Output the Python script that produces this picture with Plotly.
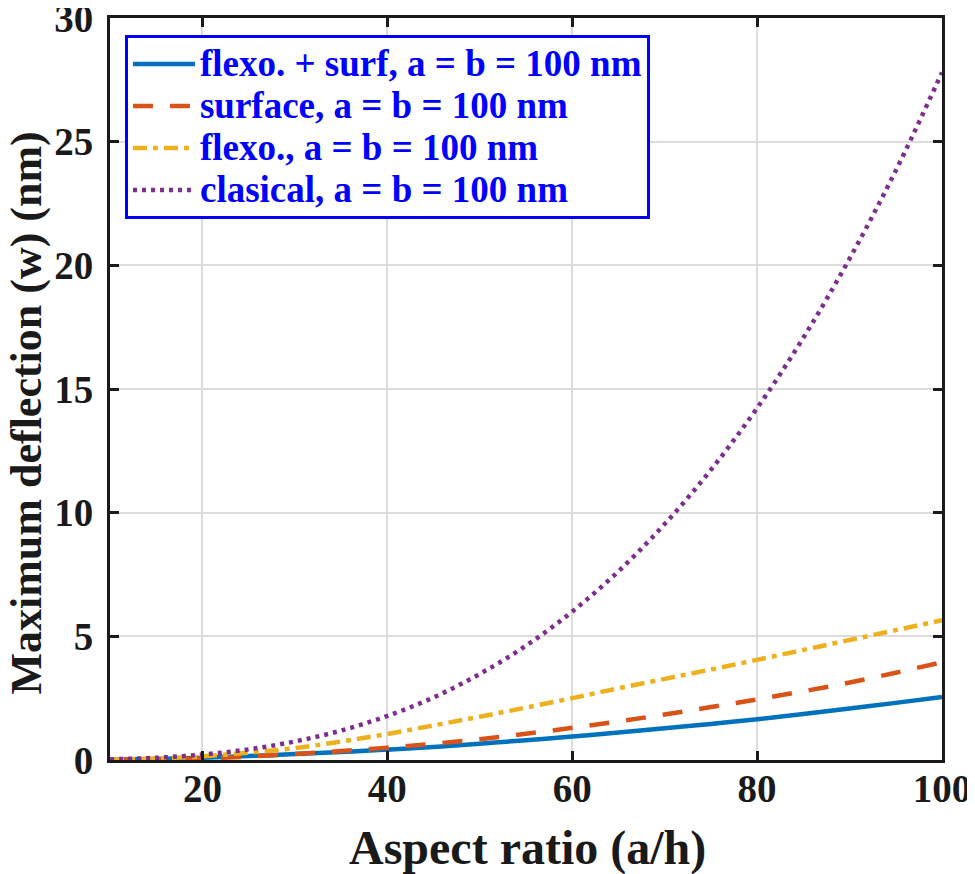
import plotly.graph_objects as go

aspect_ratio = [10, 15, 20, 25, 30, 35, 40, 45, 50, 55, 60, 65, 70, 75, 80, 85, 90, 95, 100]

w_flexo_surf = [0.01, 0.04, 0.09, 0.16, 0.24, 0.32, 0.42, 0.53, 0.66, 0.80, 0.95, 1.11, 1.28, 1.46, 1.65, 1.86, 2.08, 2.31, 2.55]
w_surface = [0.01, 0.03, 0.07, 0.14, 0.24, 0.36, 0.50, 0.66, 0.84, 1.06, 1.30, 1.56, 1.84, 2.14, 2.45, 2.78, 3.13, 3.53, 3.95]
w_flexo = [0.02, 0.06, 0.15, 0.30, 0.48, 0.75, 1.05, 1.40, 1.75, 2.12, 2.50, 2.90, 3.28, 3.66, 4.05, 4.45, 4.85, 5.25, 5.65]
w_classical = [0.03, 0.09, 0.22, 0.43, 0.75, 1.19, 1.78, 2.53, 3.48, 4.62, 6.00, 7.63, 9.54, 11.73, 14.23, 17.07, 20.27, 23.83, 27.8]

series_names = [
    "flexo. + surf, a = b = 100 nm",
    "surface, a = b = 100 nm",
    "flexo., a = b = 100 nm",
    "clasical, a = b = 100 nm",
]
series_values = [w_flexo_surf, w_surface, w_flexo, w_classical]
colors = ["#0072BD", "#D95319", "#EDB120", "#7E2F8E"]
dashes = ["solid", "20px,17px", "14px,6px,5px,6px", "4px,5px"]

x_ticks = [20, 40, 60, 80, 100]
y_ticks = [0, 5, 10, 15, 20, 25, 30]

x_title = "Aspect ratio (a/h)"
y_title = "Maximum deflection (w) (nm)"

FONT = "Liberation Serif"
INK = "#1a1a1a"

fig = go.Figure()
for name, vals, c, d in zip(series_names, series_values, colors, dashes):
    fig.add_trace(go.Scatter(
        x=aspect_ratio, y=vals, mode="lines",
        name='<span style="font-size:37px">' + name + '</span>',
        line=dict(color=c, width=4.5, dash=d, shape="spline"),
    ))

axis_common = dict(
    showline=True, linecolor=INK, linewidth=3, mirror="ticks",
    ticks="inside", ticklen=9, tickwidth=3, tickcolor=INK,
    showgrid=True, gridcolor="#dcdcdc", gridwidth=2, zeroline=False,
    tickfont=dict(family=FONT, size=39, color=INK, weight="bold"),
    ticklabeloverflow="allow", automargin=False,
)

fig.update_layout(
    width=975, height=874,
    margin=dict(l=102, r=41, t=10, b=122),
    paper_bgcolor="white", plot_bgcolor="white",
    font=dict(family=FONT, color=INK),
    xaxis=dict(
        range=[10, 100], tickvals=x_ticks, ticktext=[str(v) for v in x_ticks],
        ticklabelstandoff=-8,
        **axis_common,
    ),
    yaxis=dict(
        range=[0, 30], tickvals=y_ticks, ticktext=[str(v) for v in y_ticks],
        ticklabelstandoff=6,
        **axis_common,
    ),
    legend=dict(
        x=0.018, y=0.977, xanchor="left", yanchor="top",
        bgcolor="white", bordercolor="#0000FF", borderwidth=3,
        font=dict(family=FONT, size=30, color="#0000FF", weight="bold"),
        itemwidth=62, tracegroupgap=0,
    ),
    annotations=[
        dict(text="<b>" + x_title + "</b>", xref="paper", yref="paper",
             x=0.502, y=-0.118, xanchor="center", yanchor="middle", showarrow=False,
             font=dict(family=FONT, size=48, color=INK)),
        dict(text="<b>" + y_title + "</b>", xref="paper", yref="paper",
             x=-0.1, y=0.468, xanchor="center", yanchor="middle", showarrow=False,
             textangle=-90, font=dict(family=FONT, size=44, color=INK)),
    ],
)

fig.write_html("out.html")
